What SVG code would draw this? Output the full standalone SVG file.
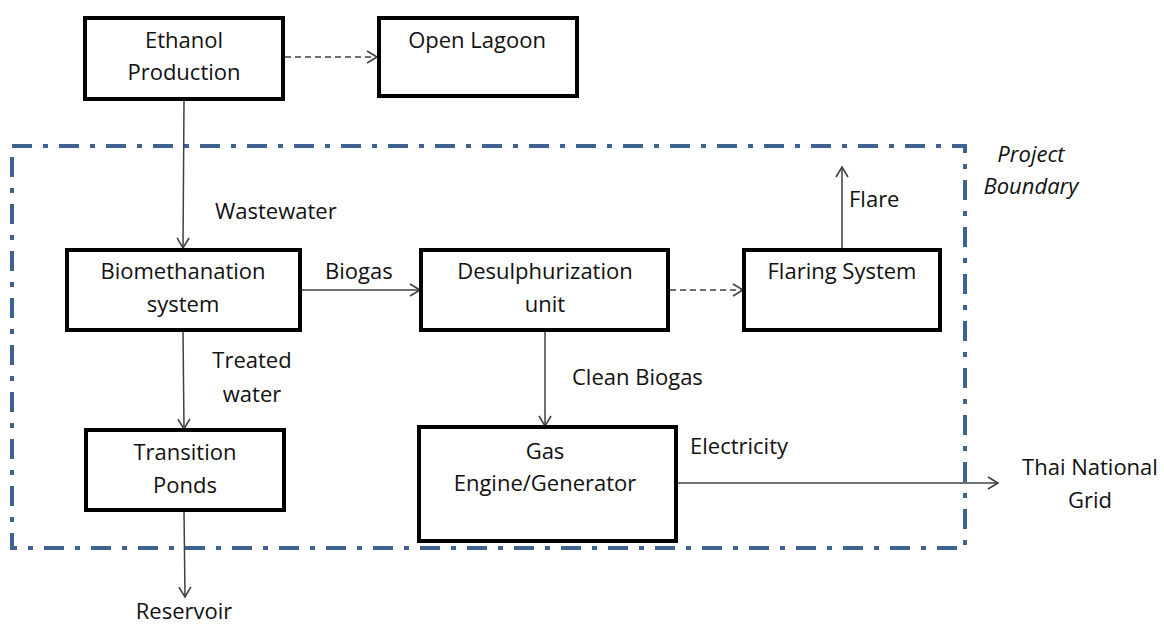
<svg xmlns="http://www.w3.org/2000/svg" width="1164" height="625" viewBox="0 0 1164 625">
  <defs>
    <marker id="open-arrow" viewBox="0 0 14 14" refX="12" refY="7" markerWidth="14" markerHeight="14" markerUnits="userSpaceOnUse" orient="auto">
      <path d="M2,1 L12,7 L2,13" fill="none" stroke="#404040" stroke-width="1.6"/>
    </marker>
  </defs>
  <style>
    .box { fill: #ffffff; stroke: #000000; stroke-width: 4; }
    .lbl { font-family: "Open Sans", "Liberation Sans", sans-serif; font-size: 22px; fill: #111111; text-anchor: middle; }
    .lbl-l { font-family: "Open Sans", "Liberation Sans", sans-serif; font-size: 22px; fill: #111111; }
    .edge { fill: none; stroke: #404040; stroke-width: 1.5; marker-end: url(#open-arrow); }
    .dashed { stroke-dasharray: 6 4; }
    .boundary { fill: none; stroke: #3f6390; stroke-width: 4; stroke-dasharray: 20 11 5 11; }
    .italic { font-style: italic; }
  </style>
  <rect width="1164" height="625" fill="#ffffff"/>

  <!-- project boundary -->
  <g id="boundary">
    <rect class="boundary" x="12" y="146" width="953" height="402"/>
    <text class="lbl italic" x="1031" y="162">Project</text>
    <text class="lbl italic" x="1031" y="194">Boundary</text>
  </g>

  <!-- connectors -->
  <g id="connectors">
    <path class="edge dashed" d="M285,57 L377,57"/>
    <path class="edge" d="M184,100 L183,248"/>
    <path class="edge" d="M301,290 L420,290"/>
    <path class="edge dashed" d="M670,290 L743,290"/>
    <path class="edge" d="M842,249 L842,167"/>
    <path class="edge" d="M183,331 L184,429"/>
    <path class="edge" d="M545,331 L545,426"/>
    <path class="edge" d="M184,511 L185,597"/>
    <path class="edge" d="M677,483 L998,483"/>
    <text class="lbl-l" x="215" y="219">Wastewater</text>
    <text class="lbl-l" x="325" y="279">Biogas</text>
    <text class="lbl-l" x="849" y="207">Flare</text>
    <text class="lbl" x="252" y="368">Treated</text>
    <text class="lbl" x="252" y="402">water</text>
    <text class="lbl-l" x="572" y="385">Clean Biogas</text>
    <text class="lbl-l" x="690" y="454">Electricity</text>
    <text class="lbl" x="184" y="619">Reservoir</text>
    <text class="lbl" x="1090" y="475">Thai National</text>
    <text class="lbl" x="1090" y="508">Grid</text>
  </g>

  <g id="ethanol-production">
    <rect class="box" x="85" y="18" width="198" height="81"/>
    <text class="lbl" x="184" y="48">Ethanol</text>
    <text class="lbl" x="184" y="80">Production</text>
  </g>

  <g id="open-lagoon">
    <rect class="box" x="379" y="18" width="198" height="78"/>
    <text class="lbl" x="477" y="48">Open Lagoon</text>
  </g>

  <g id="biomethanation-system">
    <rect class="box" x="67" y="250" width="233" height="80"/>
    <text class="lbl" x="183" y="279">Biomethanation</text>
    <text class="lbl" x="183" y="312">system</text>
  </g>

  <g id="desulphurization-unit">
    <rect class="box" x="421" y="250" width="247" height="80"/>
    <text class="lbl" x="545" y="279">Desulphurization</text>
    <text class="lbl" x="545" y="312">unit</text>
  </g>

  <g id="flaring-system">
    <rect class="box" x="744" y="250" width="196" height="80"/>
    <text class="lbl" x="842" y="279">Flaring System</text>
  </g>

  <g id="transition-ponds">
    <rect class="box" x="86" y="430" width="198" height="80"/>
    <text class="lbl" x="185" y="460">Transition</text>
    <text class="lbl" x="185" y="493">Ponds</text>
  </g>

  <g id="gas-engine-generator">
    <rect class="box" x="419" y="427" width="257" height="114"/>
    <text class="lbl" x="545" y="459">Gas</text>
    <text class="lbl" x="545" y="491">Engine/Generator</text>
  </g>
</svg>
